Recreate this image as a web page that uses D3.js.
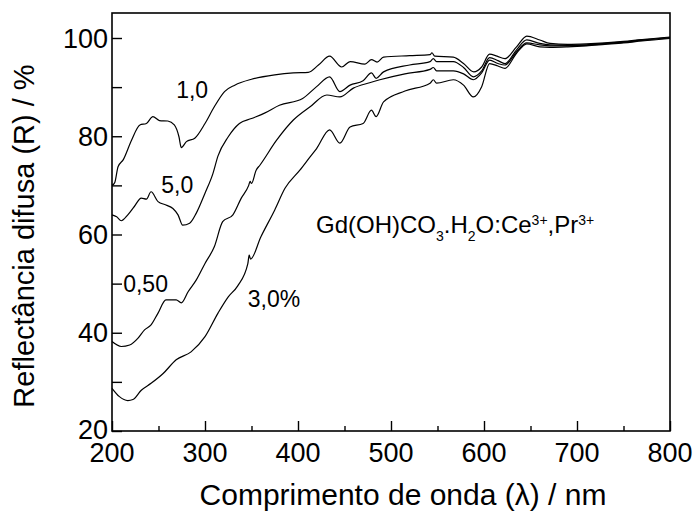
<!DOCTYPE html>
<html>
<head>
<meta charset="utf-8">
<script src="https://cdn.jsdelivr.net/npm/d3@7"></script>
<style>
body { margin: 0; background: #fff; }
text { font-family: "Liberation Sans", Arial, sans-serif; fill: #000; }
</style>
</head>
<body>
<div id="chart"></div>
<script>
// wavelength (nm) and reflectance (%), one pair of arrays per sample
var wl10 = [200,203,206.5,212,221,230,237,244,251,260,267,272,274.5,280,289,300,310,321,332,350,375,395,411,422,434,447,456,472,479,485,492,520,542,544,547,567,578,589,597.5,606,614,622.5,635,646,660,671,690,710,730,750,770,800];
var r10  = [70.0,70.6,73.8,75.2,79.2,82.3,82.6,84.0,83.2,83.1,82.3,79.9,77.7,78.9,79.6,82.6,86.0,89.1,90.4,91.6,92.5,92.9,93.0,94.5,96.3,94.1,95.2,94.7,95.6,95.1,96.1,96.4,96.6,97.0,96.3,96.1,94.8,93.1,94.1,96.7,96.3,95.8,98.2,100.4,99.6,98.9,98.7,98.8,99.0,99.3,99.7,100.2];

var wl50 = [200,205,210,217,224,231.5,237,242,249.5,258,265.5,271,276,283.5,290.5,300,308.5,314,325,337,350,364,380,405,420,434,445,456,470,479,484,492,520,542,545.5,549,567,578,588.5,597.5,606,615,622.5,635,646,660,671,690,710,730,750,770,800];
var r50  = [64.0,63.6,62.8,64.0,65.7,67.4,67.2,68.7,66.7,66.0,65.3,64.0,61.9,62.3,64.3,68.4,72.4,76.0,79.9,82.6,83.6,84.7,86.3,87.7,90.1,92.1,89.1,90.4,91.3,92.9,91.8,93.1,94.5,95.2,95.8,95.2,95.2,94.0,92.1,93.3,96.0,95.4,94.8,97.6,99.6,98.9,98.6,98.5,98.6,98.9,99.2,99.6,100.1];

var wl05 = [200,210,219,228,235,242,249.5,258,269,274.5,282,290.5,300,310,319,330,339,347,348.5,350,355,359,377,395,413,431,445,459.5,477,488,515,542,545.5,549,567,578,588.5,597.5,606,615,622.5,635,646,660,671,690,710,730,750,770,800];
var r05  = [38.2,37.2,37.5,38.9,40.6,41.6,44.0,46.7,46.7,46.1,48.4,50.7,54.1,57.5,62.6,64.0,67.4,70.0,70.8,70.4,73.1,74.1,79.2,83.3,86.0,88.4,88.0,89.8,90.9,91.5,92.7,93.6,94.0,93.3,93.3,92.7,91.5,92.9,95.5,94.8,94.5,97.2,99.0,98.6,98.4,98.4,98.5,98.8,99.1,99.5,100.0];

var wl30 = [200,208,217,222.5,231.5,242,255,269,285,300,314,325,335,346,347.5,349,360,375,386,402,413,420,434,445,456,470,479,484,492,515,542,545.5,549,567,578,588.5,597.5,606,615,622.5,635,646,660,671,690,710,730,750,770,800];
var r30  = [28.7,27.0,26.2,26.4,28.3,29.7,31.7,34.5,36.1,39.2,44.0,47.3,49.5,54.0,55.8,55.0,59.5,65.0,69.4,73.1,75.8,77.5,81.3,78.6,81.9,82.6,85.3,84.0,87.0,89.2,90.8,91.5,90.8,91.5,90.4,88.0,90.1,94.8,94.3,93.8,96.9,98.8,98.2,98.1,98.2,98.4,98.7,99.0,99.4,99.9];

var curveLabels = ["1,0", "5,0", "0,50", "3,0%"];
var labelPos = [[269, 87.8], [253, 68.4], [212, 48.3], [346, 45.2]]; // in data units
var xTicks = [200, 300, 400, 500, 600, 700, 800];
var yTicks = [20, 40, 60, 80, 100];

var W = 698, H = 513;
var m = {l: 112, r: 28, t: 13, b: 82};

var svg = d3.select("#chart").append("svg").attr("width", W).attr("height", H);

var x = d3.scaleLinear().domain([200, 800]).range([m.l, W - m.r]);
var y = d3.scaleLinear().domain([20, 100]).range([H - m.b, 38]);
var yTop = y.invert(m.t);

var series = [
	{wl: wl10, r: r10},
	{wl: wl50, r: r50},
	{wl: wl05, r: r05},
	{wl: wl30, r: r30}
];

var line = d3.line()
	.x(function(d){ return x(d[0]); })
	.y(function(d){ return y(d[1]); })
	.curve(d3.curveMonotoneX);

series.forEach(function(s){
	var pts = s.wl.map(function(w, i){ return [w, s.r[i]]; });
	svg.append("path")
		.datum(pts)
		.attr("d", line)
		.attr("fill", "none")
		.attr("stroke", "#000")
		.attr("stroke-width", 1.2);
});

// frame
svg.append("rect")
	.attr("x", x(200)).attr("y", y(yTop))
	.attr("width", x(800) - x(200)).attr("height", y(20) - y(yTop))
	.attr("fill", "none").attr("stroke", "#000").attr("stroke-width", 1.6);

// x axis, ticks inward
var xAxis = svg.append("g").attr("transform", "translate(0," + y(20) + ")");
xAxis.call(d3.axisBottom(x).tickValues(d3.range(200, 801, 50)).tickSize(0).tickFormat(""));
xAxis.select(".domain").remove();
xAxis.selectAll(".tick").append("line")
	.attr("y2", function(d){ return d % 100 === 0 ? -10 : -5; })
	.attr("stroke", "#000").attr("stroke-width", 1.4);
svg.selectAll(".xlab").data(xTicks).enter().append("text")
	.attr("x", function(d){ return x(d); })
	.attr("y", 462)
	.attr("text-anchor", "middle")
	.style("font-size", "27px")
	.text(function(d){ return d; });

// y axis
var yAxis = svg.append("g").attr("transform", "translate(" + x(200) + ",0)");
yAxis.call(d3.axisLeft(y).tickValues(d3.range(20, 101, 10)).tickSize(0).tickFormat(""));
yAxis.select(".domain").remove();
yAxis.selectAll(".tick").append("line")
	.attr("x2", 10)
	.attr("stroke", "#000").attr("stroke-width", 1.4);
svg.selectAll(".ylab").data(yTicks).enter().append("text")
	.attr("x", x(200) - 4)
	.attr("y", function(d){ return y(d) - (d === 20 ? 2 : 0); })
	.attr("dy", "0.36em")
	.attr("text-anchor", "end")
	.style("font-size", "27px")
	.text(function(d){ return d; });

// axis titles
svg.append("text")
	.attr("x", 403).attr("y", 505)
	.attr("text-anchor", "middle")
	.style("font-size", "30px")
	.text("Comprimento de onda (λ) / nm");

svg.append("text")
	.attr("transform", "translate(34,236) rotate(-90)")
	.attr("text-anchor", "middle")
	.style("font-size", "29px")
	.text("Reflectância difusa (R) / %");

// curve labels
svg.selectAll(".clab").data(curveLabels).enter().append("text")
	.attr("x", function(d, i){ return x(labelPos[i][0]); })
	.attr("y", function(d, i){ return y(labelPos[i][1]); })
	.style("font-size", "23px")
	.text(function(d){ return d; });

// compound label with sub/superscripts
var comp = svg.append("text").attr("x", 316).attr("y", 233).style("font-size", "24px");
var parts = [["Gd(OH)CO", 0], ["3", 1], [".H", 0], ["2", 1], ["O:Ce", 0], ["3+", -1], [",Pr", 0], ["3+", -1]];
parts.forEach(function(p, i){
	var prev = i > 0 ? parts[i - 1][1] : 0;
	var shift = (p[1] - prev);
	comp.append("tspan")
		.attr("dy", (shift * 8) + "px")
		.style("font-size", p[1] === 0 ? "24px" : "14px")
		.text(p[0]);
});
</script>
</body>
</html>
